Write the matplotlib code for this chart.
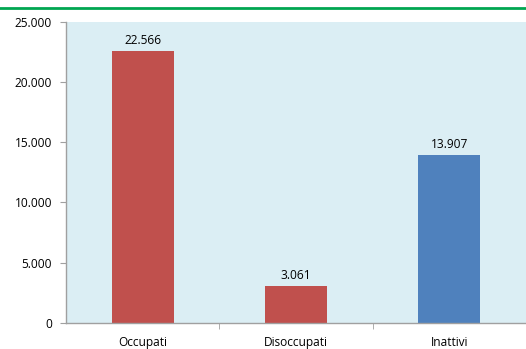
import matplotlib
matplotlib.use('Agg')
import matplotlib.pyplot as plt
from matplotlib.lines import Line2D
from matplotlib.ticker import FuncFormatter

categories = ['Occupati', 'Disoccupati', 'Inattivi']
values = [22566, 3061, 13907]
colors = ['#C0504D', '#C0504D', '#4F81BD']

plt.rcParams['font.family'] = ['Open Sans', 'DejaVu Sans']

fig = plt.figure(figsize=(5.26, 3.49), dpi=100)
ax = fig.add_axes([66 / 526, 1 - 322.7 / 349, 1 - 66 / 526, (322.7 - 22) / 349])
ax.set_facecolor('#DBEEF4')

x = range(len(categories))
bars = ax.bar(x, values, width=0.405, color=colors)

def it_fmt(v, pos=None):
    return f'{int(v):,}'.replace(',', '.')

for b, v in zip(bars, values):
    ax.text(b.get_x() + b.get_width() / 2, v + 350, it_fmt(v),
            ha='center', va='bottom', fontsize=8.6)

ax.set_xlim(-0.5, len(categories) - 0.5)
ax.set_ylim(0, 25000)
ax.set_yticks(range(0, 25001, 5000))
ax.yaxis.set_major_formatter(FuncFormatter(it_fmt))

ax.set_xticks(x)
ax.set_xticklabels(categories)
ax.set_xticks([0.5, 1.5, 2.5], minor=True)
ax.tick_params(axis='x', which='major', length=0, pad=9.5, labelsize=8.6)
ax.tick_params(axis='x', which='minor', length=4, color='#A0A0A0', direction='out')
ax.tick_params(axis='y', length=4, color='#A0A0A0', labelsize=8.6, pad=6)

for s in ['top', 'right']:
    ax.spines[s].set_visible(False)
for s in ['left', 'bottom']:
    ax.spines[s].set_color('#A0A0A0')
    ax.spines[s].set_linewidth(1)

# green line across the top
fig.add_artist(Line2D([0, 1], [1 - 8 / 349, 1 - 8 / 349], color='#00A651',
                      linewidth=2, transform=fig.transFigure))

fig.savefig('out.png', dpi=100)
